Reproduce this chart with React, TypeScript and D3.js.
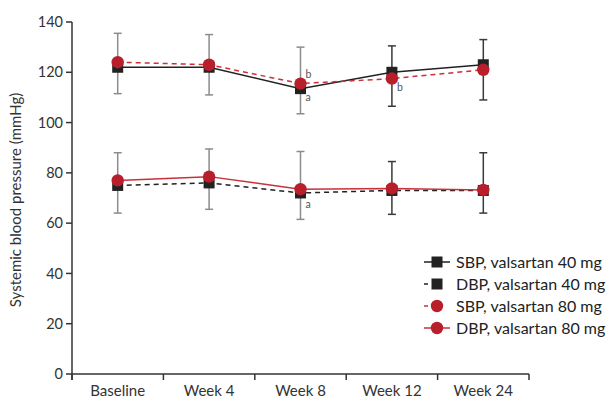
import React from 'react';
import * as d3 from 'd3';

const categories = ['Baseline', 'Week 4', 'Week 8', 'Week 12', 'Week 24'];
const yTicks = [0, 20, 40, 60, 80, 100, 120, 140];

const sbp40 = [122, 122, 113.5, 120, 123];
const dbp40 = [75, 76, 72, 73, 73];
const sbp80 = [124, 123, 115.5, 117.5, 121];
const dbp80 = [77, 78.5, 73.5, 73.8, 73.2];

// error bar ranges (upper = SBP, lower = DBP)
const sbpLow = [111.5, 111, 103.5, 106.5, 109];
const sbpHigh = [135.5, 135, 130, 130.5, 133];
const dbpLow = [64, 65.5, 61.5, 63.5, 64];
const dbpHigh = [88, 89.5, 88.5, 84.5, 88];
const barShade = ['#8c8c8c', '#8c8c8c', '#8c8c8c', '#3a3a3a', '#3a3a3a'];

const notes = [
  { cat: 'Week 8', value: 119, text: 'b' },
  { cat: 'Week 8', value: 110, text: 'a' },
  { cat: 'Week 12', value: 114, text: 'b' },
  { cat: 'Week 8', value: 67.5, text: 'a' },
];

const series = [
  { name: 'SBP, valsartan 40 mg', values: sbp40, color: '#222', dash: null, shape: 'square' },
  { name: 'DBP, valsartan 40 mg', values: dbp40, color: '#222', dash: '5,4', shape: 'square' },
  { name: 'SBP, valsartan 80 mg', values: sbp80, color: '#c9303a', dash: '5,4', shape: 'circle' },
  { name: 'DBP, valsartan 80 mg', values: dbp80, color: '#c9303a', dash: null, shape: 'circle' },
];

const font = "'Lato', 'Open Sans', sans-serif";

export default function App() {
  const left = 72, right = 529, top = 22, bottom = 374;
  const x = d3.scaleBand().domain(categories).range([left, right]);
  const y = d3.scaleLinear().domain([0, 140]).range([bottom, top]);
  const cx = (c: string) => (x(c) as number) + x.bandwidth() / 2;
  const line = d3.line<number>().x((_, i) => cx(categories[i])).y((d) => y(d));

  const marker = (s: any, px: number, py: number, key: string) =>
    s.shape === 'square' ? (
      <rect key={key} x={px - 5.5} y={py - 5.5} width={11} height={11} fill="#222" />
    ) : (
      <circle key={key} cx={px} cy={py} r={6.2} fill="#b81f2a" />
    );

  const drawOrder = [series[1], series[3], series[0], series[2]];

  return (
    <svg width={609} height={401} style={{ position: 'absolute', left: 0, top: 0, background: '#fff' }}>
      {/* y axis */}
      <line x1={left} x2={left} y1={top} y2={bottom + 6} stroke="#333" strokeWidth={1.5} />
      {yTicks.map((t) => (
        <g key={t}>
          <line x1={left - 6} x2={left} y1={y(t)} y2={y(t)} stroke="#333" strokeWidth={1.5} />
          <text x={left - 9} y={y(t)} dy="0.35em" textAnchor="end" fontSize={14.5} fill="#333" fontFamily={font}>
            {t}
          </text>
        </g>
      ))}
      <text
        transform={`translate(21,${(top + bottom) / 2 + 2}) rotate(-90)`}
        textAnchor="middle"
        fontSize={15}
        fill="#333"
        fontFamily={font}
      >
        Systemic blood pressure (mmHg)
      </text>
      {/* x axis */}
      <line x1={left} x2={right} y1={bottom} y2={bottom} stroke="#333" strokeWidth={1.5} />
      {[...categories.map((c) => x(c) as number), right].map((p, i) => (
        <line key={i} x1={p} x2={p} y1={bottom} y2={bottom + 6} stroke="#333" strokeWidth={1.5} />
      ))}
      {categories.map((c) => (
        <text key={c} x={cx(c)} y={bottom + 22} textAnchor="middle" fontSize={15} fill="#333" fontFamily={font}>
          {c}
        </text>
      ))}
      {/* error bars */}
      {categories.map((c, i) =>
        [
          [sbpLow[i], sbpHigh[i]],
          [dbpLow[i], dbpHigh[i]],
        ].map(([lo, hi], j) => (
          <g key={c + j} stroke={barShade[i]} strokeWidth={1.5}>
            <line x1={cx(c)} x2={cx(c)} y1={y(lo)} y2={y(hi)} />
            <line x1={cx(c) - 4} x2={cx(c) + 4} y1={y(lo)} y2={y(lo)} />
            <line x1={cx(c) - 4} x2={cx(c) + 4} y1={y(hi)} y2={y(hi)} />
          </g>
        ))
      )}
      {/* lines */}
      {drawOrder.map((s) => (
        <path
          key={s.name}
          d={line(s.values) as string}
          fill="none"
          stroke={s.color}
          strokeWidth={1.5}
          strokeDasharray={s.dash ?? undefined}
        />
      ))}
      {/* markers */}
      {drawOrder.map((s) => s.values.map((v, i) => marker(s, cx(categories[i]), y(v), s.name + i)))}
      {notes.map((n, i) => (
        <text key={i} x={cx(n.cat) + 5} y={y(n.value)} dy="0.35em" fontSize={10.5} fill="#555" fontFamily={font}>
          {n.text}
        </text>
      ))}
      {/* legend */}
      {series.map((s, i) => {
        const ly = 262 + i * 22;
        return (
          <g key={s.name}>
            <line
              x1={424}
              x2={450}
              y1={ly}
              y2={ly}
              stroke={s.color}
              strokeWidth={1.5}
              strokeDasharray={s.dash ? '4,9' : undefined}
            />
            {marker(s, 437, ly, 'lg' + i)}
            <text x={456} y={ly} dy="0.35em" fontSize={16} fill="#222" fontFamily={font}>
              {s.name}
            </text>
          </g>
        );
      })}
    </svg>
  );
}
